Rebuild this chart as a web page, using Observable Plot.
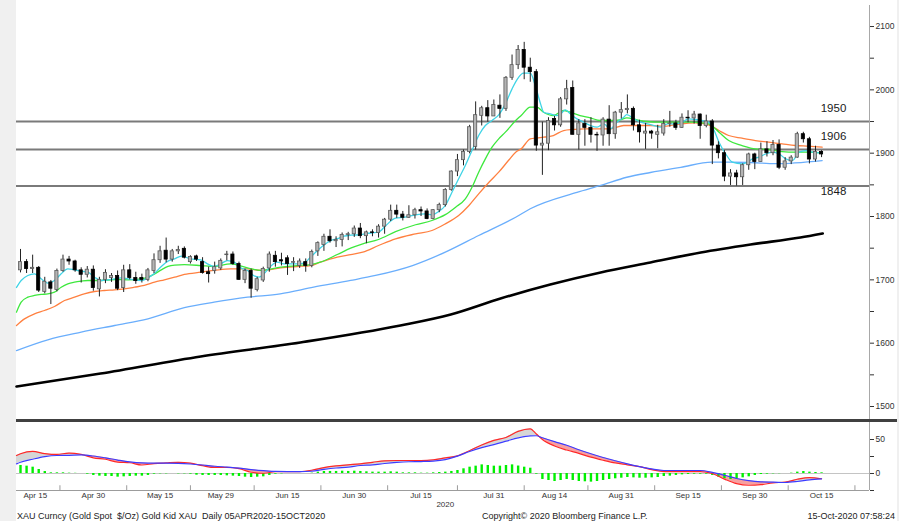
<!DOCTYPE html>
<html><head><meta charset="utf-8">
<script src="https://cdn.jsdelivr.net/npm/d3@7"></script>
<script src="https://cdn.jsdelivr.net/npm/@observablehq/plot@0.6"></script>
<style>
html,body{margin:0;padding:0;background:#fff;}
#wrap{position:relative;width:899px;height:521px;overflow:hidden;background:#fff;font-family:"Liberation Sans",Arial,sans-serif;}
#stripL{position:absolute;left:0;top:0;width:16px;height:521px;background:#f0f0f0;}
#stripR{position:absolute;left:897px;top:0;width:2px;height:521px;background:#f0f0f0;}
#top{position:absolute;left:0;top:0;}
#bot{position:absolute;left:0;top:422px;}
#sep{position:absolute;left:16px;top:419px;width:881px;height:3px;background:#404040;}
.foot{position:absolute;top:511px;font-size:9px;line-height:11px;color:#222;white-space:pre;}
</style></head>
<body><div id="wrap">
<div id="stripL"></div><div id="stripR"></div>
<div id="top"></div><div id="bot"></div><div id="sep"></div>
<div class="foot" style="left:17px">XAU Curncy (Gold Spot  $/Oz) Gold Kid XAU  Daily 05APR2020-15OCT2020</div>
<div class="foot" style="left:482px">Copyright© 2020 Bloomberg Finance L.P.</div>
<div class="foot" style="right:4px">15-Oct-2020 07:58:24</div>
</div>
<script>
// ---- candles: trading day 0 = 14 Apr 2020 ... 132 = 15 Oct 2020
const open = [1715,1728,1717,1719,1681,1696,1684,1714,1732,1729,
1715,1708,1716,1685,1700,1703,1706,1687,1715,1703,
1703,1700,1714,1731,1746,1732,1745,1749,1728,1737,
1728,1712,1714,1718,1739,1740,1725,1700,1714,1684,
1699,1718,1738,1731,1734,1727,1722,1728,1722,1745,
1755,1768,1761,1763,1771,1772,1781,1769,1775,1774,
1784,1795,1809,1803,1798,1802,1810,1808,1796,1810,
1818,1842,1871,1889,1902,1910,1959,1971,1958,1975,
1970,2019,2039,2063,2035,2028,1912,1915,1954,1944,
1985,2003,1929,1946,1940,1929,1928,1953,1930,1964,
1968,1970,1944,1931,1934,1929,1931,1946,1947,1940,
1956,1955,1961,1943,1950,1912,1900,1863,1868,1862,
1881,1898,1886,1906,1900,1913,1877,1887,1893,1930,
1922,1890,1902];
const close = [1728,1717,1719,1683,1697,1686,1714,1732,1729,1715,
1708,1716,1687,1700,1711,1706,1686,1715,1703,1698,
1700,1715,1731,1745,1732,1745,1747,1735,1736,1732,
1711,1709,1720,1730,1740,1725,1700,1714,1686,1701,
1717,1740,1728,1729,1725,1728,1729,1722,1744,1758,
1768,1761,1763,1771,1772,1781,1769,1775,1774,1784,
1795,1809,1803,1798,1802,1810,1808,1796,1810,1818,
1842,1871,1889,1902,1941,1960,1971,1958,1976,1970,
2019,2039,2063,2035,2028,1912,1915,1951,1944,1985,
2001,1929,1947,1940,1929,1928,1953,1930,1964,1968,
1970,1944,1933,1934,1931,1933,1946,1947,1940,1956,
1955,1961,1943,1950,1912,1900,1863,1868,1862,1881,
1898,1886,1906,1900,1913,1877,1887,1893,1930,1922,
1890,1902,1898];
const high = [1748,1732,1739,1721,1704,1699,1717,1739,1737,1731,
1719,1721,1722,1704,1716,1710,1714,1723,1724,1712,
1709,1718,1741,1753,1766,1748,1753,1752,1738,1739,
1735,1720,1728,1733,1745,1744,1728,1717,1717,1704,
1720,1744,1745,1742,1738,1735,1733,1733,1747,1760,
1772,1779,1768,1774,1775,1785,1789,1777,1779,1787,
1797,1818,1818,1808,1817,1813,1815,1812,1811,1821,
1844,1872,1898,1905,1944,1981,1974,1983,1984,1992,
2021,2055,2070,2075,2050,2032,1949,1956,1958,1988,
2015,2014,1953,1953,1956,1933,1956,1975,1966,1980,
1992,1973,1952,1947,1936,1944,1953,1966,1952,1962,
1967,1966,1962,1960,1953,1918,1904,1874,1873,1883,
1900,1900,1916,1918,1920,1921,1893,1896,1933,1933,
1925,1911,1904];
const low = [1711,1710,1710,1680,1678,1661,1681,1712,1723,1712,
1695,1703,1682,1673,1694,1696,1683,1680,1700,1693,
1695,1697,1710,1726,1727,1728,1740,1733,1725,1729,
1709,1695,1709,1715,1730,1723,1699,1694,1671,1681,
1696,1712,1720,1722,1707,1713,1718,1712,1719,1737,
1745,1758,1751,1752,1762,1767,1765,1757,1768,1766,
1772,1792,1797,1793,1797,1796,1800,1795,1795,1806,
1815,1840,1863,1880,1899,1905,1943,1949,1958,1955,
1966,2015,2032,2016,2012,1903,1865,1904,1935,1941,
1976,1929,1905,1911,1916,1903,1911,1911,1922,1954,
1962,1935,1916,1906,1922,1907,1927,1941,1936,1939,
1948,1946,1922,1940,1882,1891,1855,1849,1848,1849,
1873,1874,1886,1894,1896,1874,1873,1882,1892,1916,
1883,1886,1893];

// ---- moving averages (trading-day index, price)
const cyanIdx = [-0.66,0.11,1.21,2.31,3.41,4.5,5.6,6.7,7.8,8.9,10,11.1,12.2,13.3,14.4,15.5,16.6,17.7,18.8,19.9,21,22.1,23.2,24.3,25.4,26.5,28,29.7,30.8,31.9,33,34.1,35.2,36.3,37.4,38.4,39.3,40.1,41.2,42.3,43.4,44.5,45.6,46.7,47.8,48.9,50,51.1,52.2,53.3,54.4,55.8,57,58,59,60.2,61.8,63.4,65.1,66.7,67.8,68.9,70,71.1,72.2,73.3,74.4,75.5,76.6,77.7,78.8,79.9,81,81.9,82.9,84,84.9,85.7,86.2,87.3,88.4,89,89.8,90.6,91.7,92.8,93.9,95,96.1,97.2,98.3,99.4,99.9,101.1,102.2,103.3,104.4,105.5,106.6,107.7,108.8,110.1,111.2,112.3,113.4,114.3,115.1,116.2,117.3,118.9,119.8,120.6,121.7,122.8,123.9,125,126.1,127.2,128.3,129.4,130.5,131.6,132.1];
const cyanVal = [1688,1699,1706.8,1709.5,1701.6,1694.7,1699,1709.5,1717.4,1715.8,1713.7,1712.1,1704.2,1699,1700,1701.6,1703.2,1701.6,1700,1699,1703.2,1710.5,1721.1,1729.5,1733.2,1737.6,1733.2,1731.6,1725.3,1721.1,1725.3,1730.5,1727.9,1718.9,1714.8,1706.8,1704.2,1709.5,1721.1,1727.9,1725.3,1725.3,1725.3,1726.3,1736,1746,1755,1762,1765,1769,1770.5,1771.1,1773,1774.2,1775.3,1785.8,1797.4,1799,1802.7,1804.2,1802.7,1807.9,1817.4,1838.4,1859.5,1880.5,1904.2,1927.9,1943.7,1951.6,1960.5,1977.9,2001.6,2017.4,2026.3,2026.3,2004.2,1977.9,1964.7,1962.1,1959.5,1962.1,1968.4,1962.1,1954.2,1948.9,1943.7,1941,1946.3,1938.4,1948.9,1956.8,1961,1954.2,1948.9,1946.3,1943.7,1941,1946.3,1946.3,1948,1954.2,1953.2,1951.6,1949,1935.8,1917.4,1899,1885.8,1883.2,1885.8,1891,1893.7,1898.9,1901.6,1898.9,1891,1888.4,1901.6,1904.2,1901.6,1900.5,1900.5];

const greenIdx = [-0.66,0.11,1.21,2.31,3.41,4.5,5.6,6.7,7.8,8.9,10,11.1,13.3,15.5,17.7,19.9,21,22.1,23.2,24.3,25.4,27,29.7,31.9,34.6,37.4,39.6,42.9,45.6,47.8,49.4,52.2,54.4,56.4,59,61.8,65.1,67.8,70,71.7,73.3,74.4,75.5,76.6,77.7,78.8,79.9,81.6,82.5,84,85.1,86.2,87.8,89.5,90.6,92.2,93.9,95.5,97.2,98.8,99.9,101.6,103.3,104.9,106.6,108.8,110.6,113.4,115.1,116.7,118.9,121.1,123.3,125.5,127.7,129.9,132.1];
const greenVal = [1649,1664.7,1672.6,1675.3,1676.9,1677.9,1680.5,1688.4,1693.7,1696.3,1697.9,1699,1699,1700.5,1700,1701.6,1704.2,1709.5,1715.8,1721.1,1723.2,1724,1722.6,1721.1,1725.3,1719,1714.8,1720,1722.6,1724.2,1727.9,1740,1750,1756.9,1763.7,1776,1787,1793.7,1803,1814.8,1827.9,1846.3,1870,1891.1,1909.5,1922.7,1933.2,1951.6,1959.5,1972.6,1972.6,1964.7,1959.5,1967.4,1964.7,1959.5,1955.8,1951.6,1951.6,1952.6,1955.8,1952.6,1950,1948.9,1948.9,1948.9,1949,1946.3,1933.2,1920,1912.1,1906.8,1905.8,1902.6,1901.6,1901.6,1900.5];

const orangeIdx = [-0.66,0.66,2.31,3.96,5.6,7.25,8.9,10.5,12.2,13.8,15.5,17.1,18.8,20.4,22.1,23.7,25.4,27,29.7,31.9,34.6,37.4,39.6,42.9,45.6,47.8,49.4,52.2,54.4,56.4,59,61.8,65.1,67.8,70,72.2,73.9,75.5,77.2,78.8,80.4,81.6,82.5,84,85.1,86.2,87.8,89.5,91.1,92.8,95,97.2,99.4,101.6,103.8,106,107.9,111.2,113.4,115.1,116.7,118.9,121.1,123.3,125.5,127.7,129.9,132.1];
const orangeVal = [1628,1638.4,1646.3,1651.6,1657.9,1667.4,1672.6,1677.9,1681.6,1683.2,1684.2,1685.8,1688.4,1691.1,1696.3,1700,1704.2,1708.5,1712.1,1714.8,1717.4,1717.4,1714.8,1719,1721.1,1722.6,1727.9,1735.8,1740,1743.7,1754.2,1764.8,1772.6,1777.9,1788.4,1801.6,1817.4,1835.8,1854.2,1870,1888.4,1901.6,1906.8,1922.6,1924.2,1925.2,1927.9,1935.8,1937.4,1938.4,1938.4,1938.4,1943.7,1943.7,1943.7,1942.6,1945,1947.9,1944.7,1935.8,1927.9,1923.7,1920,1917.4,1914.7,1912.1,1911,1909.5];

const blueIdx = [-0.66,4.5,10,15.5,21,27,31.9,37.4,42.8,48.3,54.4,58.5,64.6,70,75.5,81.6,84,91.7,95.6,99.9,103.8,108.8,113.9,116.7,120.3,124.4,132.1];
const blueVal = [1588.4,1605.3,1617.4,1627.9,1638.4,1656,1664.7,1672.6,1677.9,1688.4,1699,1706.9,1722.6,1743.7,1770,1798.9,1812.3,1838.2,1849,1862,1869.5,1877.7,1885.8,1885.8,1885.3,1883.5,1888.4];

const blackIdx = [-0.66,13.2,29.7,46.1,62.6,70.9,79.1,87.3,95.6,103.8,112.1,120.3,128.5,132.2];
const blackVal = [1531.6,1552.1,1579,1601.1,1627.9,1645.3,1670.5,1692.6,1711.6,1727.4,1743.2,1755.8,1766.8,1773.2];

// ---- support / resistance
const levels = [1950, 1906, 1848];
const levelSide = ["above", "above", "below"];

// ---- lower panel (MACD style)
const macdIdx = [-0.66,0,2,4,6,8,10,12,14,16,18,20,22,24,26,28,30,32,34,36,38,40,42,44,46,48,50,52,54,56,58,60,62,64,66,68,70,72,74,76,78,80,82,84,85,86,88,90,92,94,96,98,100,102,104,106,108,110,112,114,116,118,120,122,124,126,128,130,132];
const macdRed = [26.5,29,32.5,29.3,28,30,28,23,21,16.7,15.8,12.5,14.5,15.6,16.5,15.2,11.5,8.8,8.8,7.2,1.8,0.4,2.6,2.9,2.9,4.8,8.7,11.2,12.8,14.2,16.5,18.7,19.1,19.1,19.1,20,23,26,33.5,42,48.7,53,62,65.7,58,50,40.5,34.5,29.5,24,19.5,15.5,12.8,10,5.6,2.9,2.9,2.9,2.9,0,-8.2,-15,-17.3,-16.5,-13.7,-12.7,-8.5,-6,-7.7];
const macdBlue = [14.2,16.5,21,24.8,26.5,26.7,27.3,25.7,23,19.8,17,15.5,15.2,15.4,15,14,12.5,10.7,9.4,8,5.8,4.2,3,2.9,2.9,3.3,6,8.1,9.4,11.8,12.6,14.7,16.3,17.3,17.6,18.3,20.5,25.5,32.3,38,42.5,47.5,52.5,55.4,55.5,52.5,46.8,41.5,35,29,23.5,18.7,14.2,10.2,6.7,4.4,4.4,4.4,4.4,1.6,-2.6,-7.3,-10.6,-12.3,-12.7,-13.2,-11.8,-9.4,-7.8];
const histVal = [11.8,10.8,9.3,5.9,2.9,1,1,1,0.5,0.3,
0,-1,-2.9,-3.9,-4.4,-4.4,-5.4,-4.9,-4.4,-3.9,
-3.9,-2.9,-1,-0.5,-0.5,0,-0.5,-0.5,-1,-2.5,
-2.9,-2.9,-2.9,-2.9,-3.4,-3.9,-4.4,-5.4,-5.9,-5.4,
-4.9,-2.9,-1,-0.5,0,0,0,0,0.5,2,
3,3,3,3.4,3,3.4,3,2.5,2,2,
2,2.5,2,1,1,1,0.5,0.5,1,1.5,
2,3,4.4,6.9,9.3,10.8,12.7,11.8,10.8,10.8,
11.8,12.7,11,9.3,7.8,-1,-8.8,-10.3,-11.8,-10.3,
-8.8,-10.3,-11.8,-12.2,-12.7,-11.8,-10.3,-8.8,-7.8,-6.9,
-5.9,-6.4,-6.9,-6.9,-6.4,-5.9,-4.4,-3.9,-2.9,-2,
-1.5,-1,-1,-1,-2.9,-5.4,-7.8,-8.8,-7.8,-6.4,
-4.9,-2.9,-1.5,-1,-0.5,-0.3,0,0.5,2,2.9,
2,1.5,1];

// ---- axis labels
const xLabels = ["Apr 15","Apr 30","May 15","May 29","Jun 15","Jun 30","Jul 15","Jul 31","Aug 14","Aug 31","Sep 15","Sep 30","Oct 15"];
const xLabelIdx = [1,12,23,33,44,55,66,78,88,99,110,121,132];
const yearLabel = "2020";
const yearIdx = 70;
const priceTicks = d3.range(1500, 2101, 50);
const macdTicks = [-25, 0, 25, 50];

// ---- build tables
const X_DOMAIN = [-0.66, 139.9];
const candles = open.map((o, i) => ({i, open: o, high: high[i], low: low[i], close: close[i], up: close[i] >= o}));
const series = (idx, val) => idx.map((i, k) => ({i, v: val[k]}));
const macd = macdIdx.map((i, k) => ({i, red: macdRed[k], blue: macdBlue[k]}));
const hist = histVal.map((v, i) => ({i, v}));
const lvl = levels.map((v, k) => ({v, side: levelSide[k]}));
const xl = xLabelIdx.map((i, k) => ({i, t: xLabels[k]}));
const tickMid = xLabelIdx.map((v, k) => k < xLabelIdx.length - 1 ? (v + xLabelIdx[k + 1]) / 2 : v + (v - xLabelIdx[k - 1]) / 2);

const font = "Liberation Sans, Arial, sans-serif";

const topChart = Plot.plot({
  width: 899, height: 421,
  marginLeft: 16, marginRight: 30, marginTop: 5, marginBottom: 1,
  style: {background: "transparent", fontFamily: font, fontSize: "8.5px", color: "#333"},
  x: {domain: X_DOMAIN, axis: null},
  y: {domain: [1477.9, 2133.2], axis: "right", ticks: priceTicks,
      tickFormat: d => d % 100 === 0 ? String(d) : "", tickSize: 4, tickPadding: 2, label: null},
  marks: [
    Plot.ruleY(lvl, {y: "v", stroke: "#7a7a7a", strokeWidth: 2}),
    Plot.line(series(blackIdx, blackVal), {x: "i", y: "v", stroke: "#000", strokeWidth: 2.6, curve: "monotone-x"}),
    Plot.line(series(blueIdx, blueVal), {x: "i", y: "v", stroke: "#6aaefc", strokeWidth: 1.3, curve: "monotone-x"}),
    Plot.line(series(orangeIdx, orangeVal), {x: "i", y: "v", stroke: "#ff8040", strokeWidth: 1.3, curve: "monotone-x"}),
    Plot.line(series(greenIdx, greenVal), {x: "i", y: "v", stroke: "#3de83d", strokeWidth: 1.3, curve: "monotone-x"}),
    Plot.line(series(cyanIdx, cyanVal), {x: "i", y: "v", stroke: "#40d4e6", strokeWidth: 1.3, curve: "monotone-x"}),
    Plot.ruleX(candles, {x: "i", y1: "low", y2: "high", stroke: "#222", strokeWidth: 1}),
    Plot.rect(candles, {x1: d => d.i - 0.26, x2: d => d.i + 0.26, y1: "open", y2: "close",
      fill: d => d.up ? "#b4b4b4" : "#000", stroke: d => d.up ? "#5a5a5a" : "#000", strokeWidth: 0.8}),
    Plot.text(lvl.filter(d => d.side === "above"), {y: "v", text: d => String(d.v), frameAnchor: "right",
      textAnchor: "middle", dx: -36, dy: -13, fontSize: 11.5, fill: "#1a1a1a"}),
    Plot.text(lvl.filter(d => d.side === "below"), {y: "v", text: d => String(d.v), frameAnchor: "right",
      textAnchor: "middle", dx: -36, dy: 5, fontSize: 11.5, fill: "#1a1a1a"}),
    Plot.ruleX([X_DOMAIN[1]], {stroke: "#a8a8a8"})
  ]
});
document.getElementById("top").appendChild(topChart);

const botChart = Plot.plot({
  width: 899, height: 88,
  marginLeft: 16, marginRight: 30, marginTop: 0, marginBottom: 20,
  style: {background: "transparent", fontFamily: font, fontSize: "8.5px", color: "#333"},
  x: {domain: X_DOMAIN, axis: null},
  y: {domain: [-25, 75], axis: "right", ticks: macdTicks,
      tickFormat: d => (d === 0 || d === 50) ? String(d) : "", tickSize: 4, tickPadding: 2, label: null},
  marks: [
    Plot.ruleY([0], {stroke: "#c4c4c4"}),
    Plot.areaY(macd, {x: "i", y1: "blue", y2: d => Math.max(d.red, d.blue), fill: "#d6d6d6", curve: "monotone-x"}),
    Plot.areaY(macd, {x: "i", y1: d => Math.min(d.red, d.blue), y2: "blue", fill: "#f7a0a0", curve: "monotone-x"}),
    Plot.ruleX(hist, {x: "i", y1: 0, y2: "v", stroke: "#00f000", strokeWidth: 2.4}),
    Plot.line(macd, {x: "i", y: "red", stroke: "#ff2828", strokeWidth: 1.2, curve: "monotone-x"}),
    Plot.line(macd, {x: "i", y: "blue", stroke: "#3c3cff", strokeWidth: 1.2, curve: "monotone-x"}),
    Plot.ruleY([-25], {stroke: "#9c9c9c"}),
    Plot.ruleX([X_DOMAIN[1]], {stroke: "#a8a8a8"}),
    Plot.ruleX(tickMid, {y1: -25, y2: -18, stroke: "#9c9c9c"}),
    Plot.text(xl, {x: d => Math.max(d.i, X_DOMAIN[0] + 3.1), text: "t", frameAnchor: "bottom", dy: 7,
      fontSize: 8, fill: "#333"}),
    Plot.text([yearIdx], {x: d => d, text: () => yearLabel, frameAnchor: "bottom", dy: 16, fontSize: 8, fill: "#333"})
  ]
});
document.getElementById("bot").appendChild(botChart);
</script>
</body></html>
